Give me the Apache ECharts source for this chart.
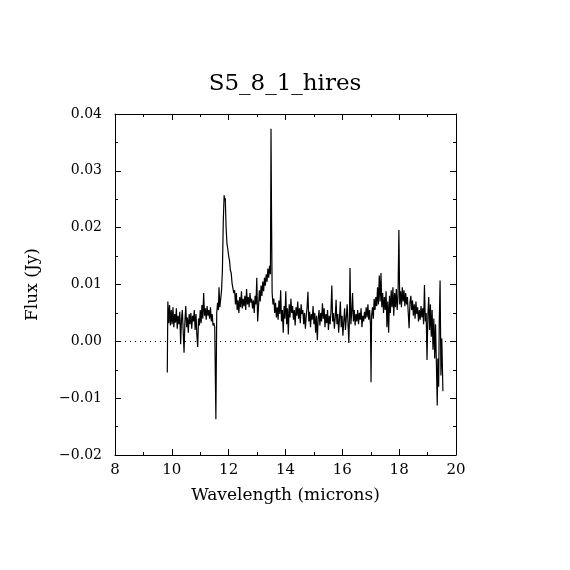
<!DOCTYPE html>
<html>
<head>
<meta charset="utf-8">
<title>S5_8_1_hires</title>
<script src="https://cdn.jsdelivr.net/npm/echarts@6/dist/echarts.min.js"></script>
<style>
  html, body { margin: 0; padding: 0; background: #fff; }
  #chart { width: 570px; height: 570px; }
</style>
</head>
<body>
<div id="chart"></div>
<script>
// Spektrum S5_8_1_hires (vlnová délka v µm, tok v Jy).

const TITLE = 'S5_8_1_hires';
const X_NAME = 'Wavelength (microns)';
const Y_NAME = 'Flux (Jy)';

const X_MIN = 8, X_MAX = 20, X_STEP = 2;
const Y_MIN = -0.02, Y_MAX = 0.04, Y_STEP = 0.01;

const wave = [
  9.84, 9.86, 9.89, 9.92, 9.95, 9.98, 10.01, 10.04, 10.07, 10.10,
  10.13, 10.16, 10.19, 10.22, 10.25, 10.28, 10.31, 10.34, 10.37, 10.40,
  10.43, 10.46, 10.49, 10.52, 10.55, 10.58, 10.61, 10.64, 10.67, 10.70,
  10.73, 10.76, 10.79, 10.82, 10.85, 10.88, 10.91, 10.94, 10.97, 11.00,
  11.03, 11.06, 11.09, 11.12, 11.15, 11.18, 11.21, 11.24, 11.27, 11.30,
  11.33, 11.36, 11.39, 11.42, 11.45, 11.48, 11.51, 11.55, 11.58, 11.61,
  11.64, 11.66, 11.69, 11.72, 11.75, 11.78, 11.81, 11.84, 11.86, 11.88,
  11.91, 11.94, 11.97, 12.00, 12.03, 12.06, 12.09, 12.12, 12.15, 12.18,
  12.21, 12.24, 12.27, 12.30, 12.33, 12.36, 12.39, 12.42, 12.45, 12.48,
  12.51, 12.54, 12.57, 12.60, 12.63, 12.66, 12.69, 12.72, 12.75, 12.78,
  12.81, 12.84, 12.87, 12.90, 12.93, 12.96, 12.99, 13.02, 13.05, 13.08,
  13.11, 13.14, 13.17, 13.20, 13.23, 13.26, 13.29, 13.32, 13.35, 13.38,
  13.41, 13.44, 13.47, 13.49, 13.51, 13.53, 13.56, 13.59, 13.62, 13.65,
  13.68, 13.71, 13.74, 13.77, 13.80, 13.83, 13.86, 13.89, 13.92, 13.95,
  13.98, 14.01, 14.04, 14.07, 14.10, 14.13, 14.16, 14.19, 14.22, 14.25,
  14.28, 14.31, 14.34, 14.37, 14.40, 14.43, 14.46, 14.49, 14.52, 14.55,
  14.58, 14.61, 14.64, 14.67, 14.70, 14.73, 14.76, 14.79, 14.82, 14.85,
  14.88, 14.91, 14.94, 14.97, 15.00, 15.03, 15.06, 15.09, 15.12, 15.15,
  15.18, 15.21, 15.24, 15.27, 15.30, 15.33, 15.36, 15.39, 15.42, 15.45,
  15.48, 15.51, 15.54, 15.57, 15.60, 15.63, 15.66, 15.69, 15.72, 15.75,
  15.78, 15.81, 15.84, 15.87, 15.90, 15.93, 15.96, 15.99, 16.02, 16.05,
  16.08, 16.11, 16.14, 16.17, 16.20, 16.23, 16.25, 16.27, 16.30, 16.33,
  16.36, 16.39, 16.42, 16.45, 16.48, 16.51, 16.54, 16.57, 16.60, 16.63,
  16.66, 16.69, 16.72, 16.75, 16.78, 16.81, 16.84, 16.87, 16.90, 16.93,
  16.96, 16.99, 17.01, 17.03, 17.06, 17.09, 17.12, 17.15, 17.18, 17.21,
  17.24, 17.27, 17.30, 17.33, 17.36, 17.39, 17.42, 17.45, 17.48, 17.51,
  17.54, 17.57, 17.60, 17.63, 17.66, 17.69, 17.72, 17.75, 17.78, 17.81,
  17.84, 17.87, 17.90, 17.93, 17.96, 17.99, 18.02, 18.05, 18.08, 18.11,
  18.14, 18.17, 18.20, 18.23, 18.26, 18.29, 18.32, 18.35, 18.38, 18.41,
  18.44, 18.47, 18.50, 18.53, 18.56, 18.59, 18.62, 18.65, 18.68, 18.71,
  18.74, 18.77, 18.80, 18.83, 18.86, 18.89, 18.92, 18.95, 18.98, 19.01,
  19.04, 19.07, 19.10, 19.13, 19.16, 19.19, 19.22, 19.25, 19.28, 19.31,
  19.34, 19.36, 19.39, 19.41, 19.44, 19.47, 19.50, 19.54
];

const flux = [
  -0.0055, 0.0070, 0.0032, 0.0064, 0.0028, 0.0055, 0.0030, 0.0060, 0.0025, 0.0048,
  0.0033, 0.0058, 0.0022, 0.0045, 0.0030, 0.0052, -0.0005, 0.0040, 0.0055, 0.0018,
  -0.0020, 0.0035, 0.0062, 0.0025, 0.0042, 0.0015, 0.0048, 0.0030, 0.0050, 0.0022,
  0.0045, 0.0035, 0.0055, 0.0020, 0.0048, 0.0012, -0.0010, 0.0040, 0.0028, 0.0055,
  0.0032, 0.0064, 0.0040, 0.0085, 0.0045, 0.0058, 0.0038, 0.0062, 0.0045, 0.0055,
  0.0040, 0.0060, 0.0035, 0.0048, 0.0028, 0.0032, 0.0025, -0.0137, 0.0050, 0.0068,
  0.0055, 0.0095, 0.0060, 0.0075, 0.0090, 0.0125, 0.0210, 0.0257, 0.0248, 0.0252,
  0.0200, 0.0172, 0.0162, 0.0150, 0.0142, 0.0125, 0.0120, 0.0102, 0.0105, 0.0085,
  0.0090, 0.0065, 0.0085, 0.0055, 0.0072, 0.0050, 0.0078, 0.0060, 0.0088, 0.0058,
  0.0075, 0.0062, 0.0080, 0.0055, 0.0092, 0.0065, 0.0078, 0.0060, 0.0085, 0.0068,
  0.0075, 0.0058, 0.0072, 0.0050, 0.0080, 0.0065, 0.0112, 0.0035, 0.0060, 0.0090,
  0.0070, 0.0098, 0.0080, 0.0105, 0.0088, 0.0112, 0.0098, 0.0118, 0.0105, 0.0128,
  0.0112, 0.0133, 0.0118, 0.0374, 0.0210, 0.0085, 0.0065, 0.0075, 0.0050, 0.0068,
  0.0042, 0.0060, 0.0038, 0.0072, 0.0048, 0.0090, 0.0035, 0.0055, 0.0015, 0.0062,
  0.0040, 0.0088, 0.0030, 0.0058, 0.0012, 0.0065, 0.0042, 0.0075, 0.0050, 0.0062,
  0.0038, 0.0055, 0.0028, 0.0060, 0.0045, 0.0070, 0.0040, 0.0058, 0.0032, 0.0065,
  0.0048, 0.0055, 0.0030, 0.0050, 0.0022, 0.0045, 0.0060, 0.0087, 0.0035, 0.0052,
  0.0025, 0.0048, 0.0038, 0.0062, 0.0030, 0.0050, 0.0015, 0.0045, 0.0002, 0.0040,
  0.0055, 0.0028, 0.0050, 0.0035, 0.0067, 0.0040, 0.0058, 0.0025, 0.0048, 0.0032,
  0.0055, 0.0020, 0.0045, 0.0030, 0.0052, 0.0098, 0.0035, 0.0050, 0.0022, 0.0042,
  0.0073, 0.0030, 0.0048, 0.0015, 0.0040, 0.0070, 0.0025, 0.0045, 0.0010, 0.0035,
  0.0058, 0.0020, 0.0042, 0.0065, 0.0030, -0.0003, 0.0040, 0.0129, 0.0030, 0.0050,
  0.0085, 0.0035, 0.0055, 0.0028, 0.0048, 0.0035, 0.0055, 0.0030, 0.0050, 0.0038,
  0.0058, 0.0025, 0.0045, 0.0035, 0.0052, 0.0040, 0.0060, 0.0042, 0.0065, 0.0038,
  0.0055, 0.0030, -0.0072, 0.0045, 0.0060, 0.0040, 0.0075, 0.0055, 0.0078, 0.0062,
  0.0095, 0.0065, 0.0116, 0.0070, 0.0120, 0.0060, 0.0085, 0.0050, 0.0078, 0.0055,
  0.0088, 0.0025, 0.0070, 0.0015, 0.0080, 0.0050, 0.0090, 0.0060, 0.0095, 0.0045,
  0.0085, 0.0060, 0.0092, 0.0055, 0.0080, 0.0196, 0.0065, 0.0088, 0.0060, 0.0095,
  0.0070, 0.0090, 0.0062, 0.0085, 0.0065, 0.0078, 0.0050, 0.0023, 0.0068, 0.0080,
  0.0055, 0.0072, 0.0045, 0.0065, 0.0040, 0.0070, 0.0048, 0.0060, 0.0035, 0.0055,
  0.0038, 0.0062, 0.0042, 0.0058, 0.0030, 0.0099, 0.0035, 0.0050, -0.0033, 0.0045,
  0.0078, 0.0020, 0.0065, 0.0008, 0.0055, -0.0015, 0.0040, -0.0030, 0.0030, -0.0040,
  -0.0113, -0.0030, -0.0080, 0.0030, 0.0107, -0.0060, 0.0005, -0.0088
];

const FONT = '"DejaVu Serif", "Liberation Serif", serif';

function fmtY(v) {
  // PGPLOT-style popisky: dvě desetinná místa, typografické minus
  const s = Number(v).toFixed(2);
  return s.replace('-', '\u2212');
}

const chart = echarts.init(document.getElementById('chart'), null, { renderer: 'canvas' });

const tickCommon = {
  axisLine: { show: true, onZero: false, lineStyle: { color: '#000', width: 1 } },
  axisTick: { show: true, inside: true, length: 6, lineStyle: { color: '#000', width: 1 } },
  minorTick: { show: true, splitNumber: 2, length: 3, lineStyle: { color: '#000', width: 1 } },
  splitLine: { show: false },
};

const option = {
  backgroundColor: '#fff',
  animation: false,
  title: {
    text: TITLE,
    left: 'center',
    top: 68,
    textStyle: { fontFamily: FONT, fontSize: 23, fontWeight: 'normal', color: '#000' },
  },
  grid: { left: 115, top: 114, width: 341, height: 341 },
  xAxis: [
    {
      type: 'value', position: 'bottom',
      min: X_MIN, max: X_MAX, interval: X_STEP,
      ...tickCommon,
      axisLabel: { show: true, margin: 8, color: '#000', fontFamily: FONT, fontSize: 15 },
      name: X_NAME, nameLocation: 'middle', nameGap: 32,
      nameTextStyle: { fontFamily: FONT, fontSize: 17, color: '#000' },
    },
    {
      type: 'value', position: 'top',
      min: X_MIN, max: X_MAX, interval: X_STEP,
      ...tickCommon,
      axisLabel: { show: false },
    },
  ],
  yAxis: [
    {
      type: 'value', position: 'left',
      min: Y_MIN, max: Y_MAX, interval: Y_STEP,
      ...tickCommon,
      axisLabel: { show: true, margin: 13, color: '#000', fontFamily: FONT, fontSize: 14, formatter: fmtY },
      name: Y_NAME, nameLocation: 'middle', nameGap: 74, nameRotate: 90,
      nameTextStyle: { fontFamily: FONT, fontSize: 17, color: '#000' },
    },
    {
      type: 'value', position: 'right',
      min: Y_MIN, max: Y_MAX, interval: Y_STEP,
      ...tickCommon,
      axisLabel: { show: false },
    },
  ],
  series: [{
    type: 'line',
    xAxisIndex: 0,
    yAxisIndex: 0,
    data: wave.map((w, i) => [w, flux[i]]),
    showSymbol: false,
    symbol: 'none',
    lineStyle: { color: '#000', width: 1.2 },
    silent: true,
    markLine: {
      silent: true,
      symbol: 'none',
      label: { show: false },
      lineStyle: { color: '#000', width: 1, type: [1, 4] },
      data: [{ yAxis: 0 }],
    },
  }],
};

chart.setOption(option);
</script>
</body>
</html>
